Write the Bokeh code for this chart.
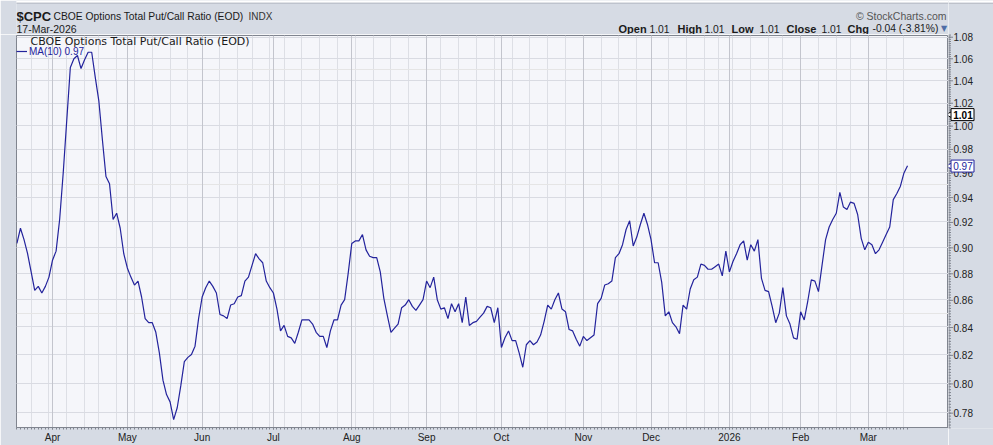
import math
import datetime as dt
from bokeh.plotting import figure
from bokeh.layouts import column, row
from bokeh.models import (Range1d, FixedTicker, Grid, Label, BoxAnnotation,
                          Legend, LegendItem, ColumnDataSource, LogScale)
from bokeh.core.properties import value
from bokeh.embed import file_html
from bokeh.resources import INLINE

# ---------------- data ----------------
symbol = "$CPC"
name = "CBOE Options Total Put/Call Ratio (EOD)"
exchange = "INDX"
as_of = "17-Mar-2026"
first_day = dt.date(2025, 3, 18)
last_day = dt.date(2026, 3, 17)
holidays = ["2025-04-18", "2025-05-26", "2025-06-19", "2025-07-04", "2025-09-01",
            "2025-11-27", "2025-12-25", "2026-01-01", "2026-01-19", "2026-02-16"]

# 10-day moving average of the put/call ratio, one value per trading day
ma10 = [
    0.903, 0.915, 0.906, 0.895, 0.881, 0.867, 0.870, 0.865, 0.870, 0.877,
    0.890, 0.897, 0.922, 0.960, 1.005, 1.052, 1.060, 1.063, 1.051, 1.059,
    1.066, 1.066, 1.043, 1.022, 0.988, 0.957, 0.951, 0.922, 0.927, 0.915,
    0.895, 0.884, 0.877, 0.871, 0.874, 0.862, 0.846, 0.843, 0.843, 0.836,
    0.821, 0.802, 0.792, 0.787, 0.775, 0.783, 0.798, 0.815, 0.818, 0.820,
    0.826, 0.846, 0.862, 0.869, 0.874, 0.870, 0.865, 0.849, 0.848, 0.846,
    0.856, 0.857, 0.862, 0.863, 0.874, 0.877, 0.886, 0.895, 0.891, 0.888,
    0.874, 0.869, 0.865, 0.853, 0.837, 0.841, 0.833, 0.832, 0.828, 0.836,
    0.845, 0.845, 0.845, 0.842, 0.836, 0.833, 0.833, 0.825, 0.837, 0.845,
    0.845, 0.856, 0.860, 0.880, 0.903, 0.905, 0.905, 0.910, 0.898, 0.893,
    0.892, 0.892, 0.881, 0.861, 0.848, 0.836, 0.839, 0.842, 0.854, 0.856,
    0.860, 0.855, 0.852, 0.856, 0.860, 0.874, 0.869, 0.877, 0.860, 0.853,
    0.854, 0.846, 0.857, 0.851, 0.857, 0.843, 0.862, 0.841, 0.843, 0.844,
    0.847, 0.850, 0.855, 0.854, 0.843, 0.854, 0.825, 0.832, 0.837, 0.830,
    0.830, 0.821, 0.811, 0.827, 0.830, 0.827, 0.829, 0.834, 0.844, 0.856,
    0.853, 0.860, 0.865, 0.853, 0.851, 0.838, 0.837, 0.831, 0.826, 0.833,
    0.830, 0.832, 0.834, 0.857, 0.861, 0.871, 0.872, 0.874, 0.892, 0.895,
    0.902, 0.914, 0.921, 0.901, 0.908, 0.918, 0.927, 0.918, 0.906, 0.888,
    0.888, 0.873, 0.848, 0.851, 0.843, 0.840, 0.835, 0.856, 0.853, 0.868,
    0.875, 0.877, 0.887, 0.886, 0.883, 0.883, 0.885, 0.887, 0.878, 0.897,
    0.881, 0.889, 0.895, 0.902, 0.905, 0.890, 0.902, 0.897, 0.906, 0.876,
    0.867, 0.866, 0.855, 0.843, 0.850, 0.869, 0.848, 0.842, 0.832, 0.831,
    0.851, 0.845, 0.859, 0.875, 0.874, 0.866, 0.886, 0.906, 0.916, 0.922,
    0.927, 0.944, 0.932, 0.930, 0.936, 0.935, 0.926, 0.907, 0.898, 0.904,
    0.902, 0.895, 0.898, 0.904, 0.910, 0.916, 0.938, 0.943, 0.949, 0.960,
    0.966,
]

y_ticks = [0.78, 0.80, 0.82, 0.84, 0.86, 0.88, 0.90, 0.92, 0.94, 0.96,
           0.98, 1.00, 1.02, 1.04, 1.06, 1.08]
month_labels = ["Apr", "May", "Jun", "Jul", "Aug", "Sep", "Oct", "Nov", "Dec",
                "2026", "Feb", "Mar"]

quote_names = ["Open", "High", "Low", "Close", "Chg"]
quote_values = ["1.01", "1.01", "1.01", "1.01", "-0.04 (-3.81%)"]
last_close = 1.01

# ---------------- trading calendar ----------------
hol = {dt.date.fromisoformat(h) for h in holidays}
days = []
d = first_day
while d <= last_day:
    if d.weekday() < 5 and d not in hol:
        days.append(d)
    d += dt.timedelta(days=1)
assert len(days) == len(ma10), (len(days), len(ma10))

idx = list(range(len(days)))
month_idx = [i for i in idx[1:] if days[i].month != days[i - 1].month]
week_idx = [i for i in idx[1:] if days[i].weekday() <= days[i - 1].weekday()]

# ---------------- styling / layout constants ----------------
NAVY = "#23239c"
BG = "#d6dbe4"
PLOT_BG = "#f5f6fa"
EDGE = "#80858f"
TXT = "#1a1a1a"
TOTAL_W, TOTAL_H = 993, 445
HEAD_H = 34
SIDE_W = 45
MAIN_W = TOTAL_W - SIDE_W          # 948
MAIN_H = TOTAL_H - HEAD_H          # 411
ML, MR, MT, MB = 16, 0, 1, 17
FH = MAIN_H - MT - MB              # plot frame height
y_lo, y_hi = 0.7697, 1.0816
y_rng = Range1d(y_lo, y_hi)

# ---------------- header strip ----------------
# its frame is aligned with the chart's frame (x from 16 to 948 px)
head = figure(width=MAIN_W, height=HEAD_H, output_backend="svg",
              toolbar_location=None, x_axis_location=None, y_axis_location=None,
              x_range=Range1d(ML, MAIN_W), y_range=Range1d(HEAD_H, 0),
              min_border_left=ML, min_border_right=0, min_border_top=0,
              min_border_bottom=0)
head.background_fill_color = BG
head.border_fill_color = BG
head.outline_line_color = None
head.grid.visible = False
head.quad(left=[0], right=[MAIN_W], top=[0], bottom=[2.2],
          fill_color="#ffffff", line_color=None)
head.segment(x0=[0], x1=[MAIN_W], y0=[2.7], y1=[2.7], line_color="#b4b9c2",
             line_width=1)


def hlab(text, x, y, size="10.5px", bold=False, color=TXT, align="left",
         font="Liberation Sans"):
    head.add_layout(Label(x=x, y=y, text=text, text_font=font,
                          text_font_size=size,
                          text_font_style="bold" if bold else "normal",
                          text_color=color, text_align=align,
                          text_baseline="middle"))


hlab(symbol, 16, 15.5, size="13px", bold=True)
hlab(name, 53, 15.5, size="10.3px")
hlab(exchange, 248, 15.5, size="10px", color="#333333")
hlab(as_of, 16, 28, size="10.5px")
hlab("\u00a9 StockCharts.com", 946, 15, size="10.5px", color="#555555",
     align="right")
name_x = [618, 677, 731, 786, 847]
val_x = [649, 704, 759, 821, 872]
for nm, vv, nx, vx in zip(quote_names, quote_values, name_x, val_x):
    hlab(nm, nx, 28, size="11px", bold=True)
    hlab(vv, vx, 28, size="10.3px")
hlab("\u25bc", 943.5, 28, size="8px", color="#4f6ea6", align="center",
     font="DejaVu Sans")

# ---------------- main chart ----------------
p = figure(width=MAIN_W, height=MAIN_H, output_backend="svg", toolbar_location=None,
           y_axis_location=None,
           x_range=Range1d(-0.11, 261.5), y_range=y_rng,
           min_border_left=ML, min_border_right=MR, min_border_top=MT,
           min_border_bottom=MB)
p.y_scale = LogScale()
p.background_fill_color = PLOT_BG
p.border_fill_color = BG
p.outline_line_color = EDGE

p.add_layout(Grid(dimension=1, ticker=FixedTicker(ticks=y_ticks),
                  grid_line_color="#d9dbe2"))
p.xgrid.ticker = FixedTicker(ticks=week_idx)
p.xgrid.grid_line_color = "#dddfe5"
p.add_layout(Grid(dimension=0, ticker=FixedTicker(ticks=month_idx),
                  grid_line_color="#c3c5cd"))

src = ColumnDataSource(dict(i=idx, ma=ma10))
r = p.line(x="i", y="ma", source=src, line_color=NAVY, line_width=1.2)

xa = p.xaxis[0]
xa.ticker = FixedTicker(ticks=month_idx, minor_ticks=idx)
xa.major_label_overrides = {m: lab for m, lab in zip(month_idx, month_labels)}
xa.major_label_text_font = "Liberation Sans"
xa.major_label_text_font_size = "10px"
xa.major_label_text_color = "#222222"
xa.major_label_standoff = 2
xa.major_tick_in = 0
xa.major_tick_out = 2
xa.minor_tick_in = 0
xa.minor_tick_out = 2
xa.axis_line_color = EDGE
xa.major_tick_line_color = EDGE
xa.minor_tick_line_color = EDGE

p.add_layout(Label(x=14, y=FH - 7, x_units="screen", y_units="screen", text=name,
                   text_font="DejaVu Sans", text_font_size="11px", text_color=TXT,
                   text_baseline="middle"))

legend = Legend(items=[LegendItem(label=f"MA(10) {ma10[-1]:.2f}", renderers=[r])],
                location=(0, FH - 23), glyph_width=11, glyph_height=10,
                label_standoff=2, padding=0, margin=0, spacing=0,
                label_height=12, label_text_font="Liberation Sans",
                label_text_font_size="10px", label_text_color=NAVY,
                border_line_alpha=0, background_fill_alpha=0)
p.add_layout(legend)

# ---------------- right price scale (full height column) ----------------
SIDE_FH = TOTAL_H - MB
extra = (HEAD_H + MT) * (math.log(y_hi) - math.log(y_lo)) / FH
side_rng = Range1d(y_lo, math.exp(math.log(y_hi) + extra))

side = figure(width=SIDE_W, height=TOTAL_H, output_backend="svg",
              toolbar_location=None, x_axis_location=None, y_axis_location=None,
              x_range=Range1d(0, SIDE_W), y_range=side_rng,
              min_border_left=0, min_border_right=0, min_border_top=0,
              min_border_bottom=MB)
side.y_scale = LogScale()
side.background_fill_color = BG
side.border_fill_color = BG
side.outline_line_color = None
side.grid.visible = False

# continuation of the header's top strip
side.add_layout(BoxAnnotation(left=0, right=SIDE_W, bottom=SIDE_FH - 2.2,
                              top=SIDE_FH, left_units="screen",
                              right_units="screen", bottom_units="screen",
                              top_units="screen", fill_color="#ffffff",
                              fill_alpha=1, line_color=None))
side.add_layout(BoxAnnotation(left=0, right=SIDE_W, bottom=SIDE_FH - 3.2,
                              top=SIDE_FH - 2.2, left_units="screen",
                              right_units="screen", bottom_units="screen",
                              top_units="screen", fill_color="#b4b9c2",
                              fill_alpha=1, line_color=None))

# axis line and ticks
side.segment(x0=0.5, x1=0.5, y0=y_lo, y1=y_hi, line_color=EDGE, line_width=1)
minor_y = [round(0.770 + 0.002 * k, 3) for k in range(157)]
side.segment(x0=0, x1=2.5, y0=minor_y, y1=minor_y, line_color=EDGE, line_width=1)
tick_src = ColumnDataSource(dict(y=y_ticks, t=[f"{t:.2f}" for t in y_ticks]))
side.segment(x0=0, x1=4.5, y0="y", y1="y", source=tick_src, line_color=EDGE,
             line_width=1)
side.text(x=5, y="y", text="t", source=tick_src,
          text_font=value("Liberation Sans"), text_font_size="10px",
          text_color="#222222", text_baseline="middle", text_align="left")

box_src = ColumnDataSource(dict(
    y=[last_close, ma10[-1]],
    t=[f"{last_close:.2f}", f"{ma10[-1]:.2f}"],
    lc=["#000000", NAVY],
    tc=["#000000", NAVY],
    fs=["bold", "normal"],
))
side.scatter(x=3, y="y", source=box_src, marker="triangle", angle=math.pi / 2,
             size=9, fill_color="#ffffff", line_color="lc")
side.rect(x=14, y="y", source=box_src, width=23, height=12,
          height_units="screen", fill_color="#ffffff", line_color="lc")
side.text(x=14.5, y="y", text="t", source=box_src,
          text_font=value("Liberation Sans"), text_font_size="10px",
          text_font_style="fs", text_color="tc", text_baseline="middle",
          text_align="center")

layout = row(column(head, p), side)
open("out.html", "w").write(file_html(layout, INLINE))
